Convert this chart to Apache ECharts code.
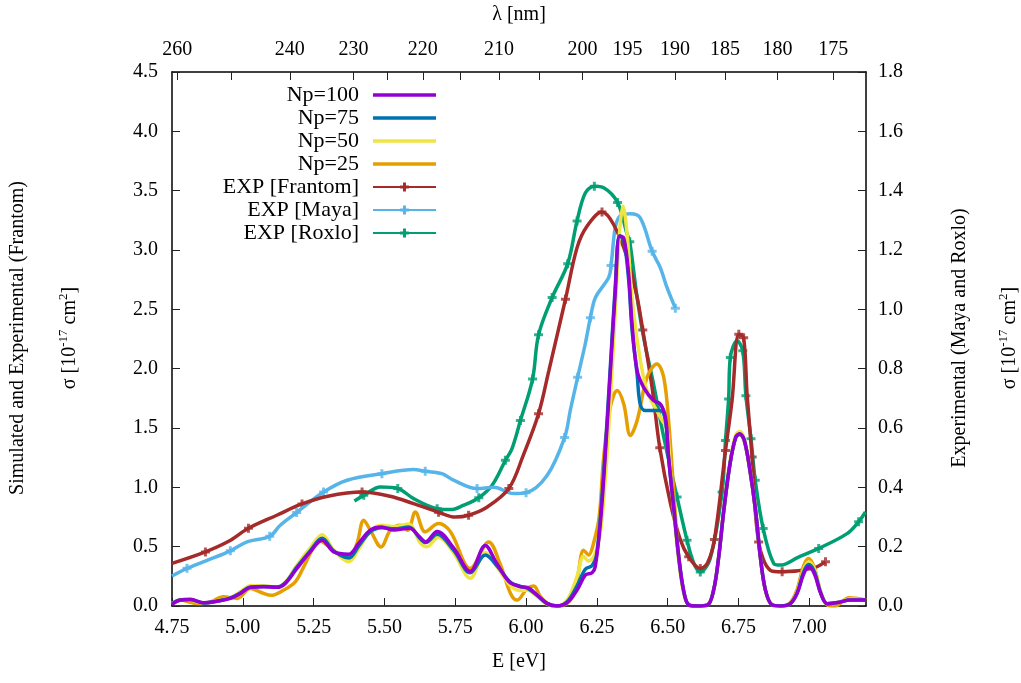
<!DOCTYPE html>
<html>
<head>
<meta charset="utf-8">
<script src="https://cdn.jsdelivr.net/npm/echarts@6/dist/echarts.min.js"></script>
<style>
  html, body { margin: 0; padding: 0; background: #fff; }
  #chart { width: 1021px; height: 683px; }
</style>
</head>
<body>
<div id="chart"></div>
<script>
// photon energy <-> wavelength
var HC = 1239.84;

// axis ticks
var energyTicks = [4.75, 5.00, 5.25, 5.50, 5.75, 6.00, 6.25, 6.50, 6.75, 7.00];
var lambdaTicks = [260, 250, 240, 230, 225, 220, 215, 210, 205, 200, 195, 190, 185, 180, 175];
var lambdaLabels = [260, 240, 230, 220, 210, 200, 195, 190, 185, 180, 175];

// simulated spectra, [E eV, sigma 1e-17 cm2] (left axis)
var np100 = [[4.75,0.014],[4.78,0.05],[4.815,0.056],[4.862,0.028],[4.897,0.036],[4.956,0.064],[4.991,0.106],[5.026,0.157],[5.073,0.162],[5.121,0.157],[5.15,0.19],[5.191,0.317],[5.238,0.456],[5.28,0.555],[5.321,0.456],[5.374,0.437],[5.409,0.527],[5.45,0.639],[5.49,0.665],[5.532,0.64],[5.59,0.655],[5.621,0.59],[5.645,0.54],[5.686,0.628],[5.744,0.49],[5.803,0.29],[5.856,0.51],[5.895,0.365],[5.94,0.204],[5.98,0.162],[6.004,0.157],[6.039,0.092],[6.074,0.022],[6.109,0.0],[6.145,0.028],[6.18,0.134],[6.209,0.26],[6.233,0.28],[6.244,0.33],[6.262,0.695],[6.279,1.255],[6.297,1.955],[6.315,2.655],[6.33,3.118],[6.345,3.10],[6.362,2.796],[6.374,2.376],[6.392,1.983],[6.415,1.843],[6.45,1.731],[6.474,1.703],[6.492,1.59],[6.503,1.255],[6.521,0.834],[6.539,0.414],[6.556,0.134],[6.574,0.008],[6.6,0],[6.64,0.008],[6.662,0.134],[6.68,0.414],[6.698,0.807],[6.72,1.2],[6.74,1.42],[6.754,1.451],[6.77,1.40],[6.79,1.15],[6.81,0.807],[6.827,0.414],[6.845,0.134],[6.868,0.01],[6.9,0],[6.933,0.02],[6.957,0.107],[6.98,0.27],[6.998,0.33],[7.018,0.27],[7.04,0.107],[7.063,0.02],[7.1,0.03],[7.145,0.05],[7.2,0.05]];
var np75 = [[4.75,0.02],[4.78,0.05],[4.815,0.052],[4.862,0.026],[4.9,0.036],[4.956,0.068],[4.991,0.11],[5.026,0.16],[5.073,0.165],[5.121,0.16],[5.15,0.195],[5.19,0.325],[5.238,0.465],[5.28,0.57],[5.321,0.465],[5.374,0.405],[5.409,0.505],[5.45,0.625],[5.49,0.66],[5.535,0.65],[5.585,0.665],[5.627,0.565],[5.645,0.535],[5.686,0.605],[5.744,0.47],[5.803,0.28],[5.856,0.43],[5.9,0.33],[5.945,0.2],[5.98,0.165],[6.004,0.15],[6.039,0.09],[6.074,0.02],[6.109,0],[6.145,0.035],[6.18,0.17],[6.209,0.31],[6.233,0.34],[6.248,0.42],[6.262,0.74],[6.279,1.3],[6.297,2.0],[6.315,2.7],[6.33,3.12],[6.345,3.08],[6.362,2.75],[6.374,2.33],[6.392,1.95],[6.403,1.70],[6.421,1.647],[6.474,1.647],[6.492,1.56],[6.503,1.25],[6.521,0.83],[6.539,0.41],[6.556,0.13],[6.574,0.01],[6.6,0],[6.64,0.008],[6.662,0.134],[6.68,0.414],[6.698,0.807],[6.72,1.2],[6.74,1.42],[6.754,1.45],[6.77,1.40],[6.79,1.15],[6.81,0.807],[6.827,0.414],[6.845,0.134],[6.868,0.01],[6.9,0],[6.933,0.02],[6.957,0.11],[6.98,0.29],[6.998,0.35],[7.018,0.29],[7.04,0.11],[7.063,0.02],[7.1,0.03],[7.145,0.05],[7.2,0.05]];
var np50 = [[4.75,0.02],[4.78,0.055],[4.815,0.05],[4.862,0.025],[4.9,0.04],[4.956,0.07],[4.991,0.12],[5.026,0.17],[5.073,0.17],[5.121,0.16],[5.15,0.2],[5.19,0.34],[5.238,0.49],[5.28,0.6],[5.321,0.47],[5.374,0.372],[5.409,0.48],[5.45,0.63],[5.49,0.68],[5.535,0.67],[5.585,0.69],[5.627,0.53],[5.65,0.5],[5.69,0.58],[5.744,0.45],[5.803,0.233],[5.856,0.45],[5.9,0.32],[5.945,0.17],[5.98,0.13],[6.004,0.135],[6.039,0.08],[6.074,0.015],[6.109,0],[6.145,0.05],[6.18,0.25],[6.203,0.42],[6.22,0.38],[6.24,0.42],[6.262,0.62],[6.279,1.05],[6.297,1.7],[6.315,2.5],[6.33,3.15],[6.342,3.37],[6.356,3.15],[6.374,2.6],[6.398,2.15],[6.427,1.815],[6.474,1.59],[6.498,1.479],[6.51,1.115],[6.525,0.7],[6.54,0.36],[6.556,0.12],[6.574,0.01],[6.6,0],[6.64,0.01],[6.662,0.14],[6.68,0.42],[6.698,0.82],[6.72,1.22],[6.74,1.44],[6.754,1.47],[6.77,1.41],[6.79,1.16],[6.81,0.81],[6.827,0.41],[6.845,0.13],[6.868,0.01],[6.9,0],[6.933,0.02],[6.957,0.12],[6.98,0.31],[6.998,0.37],[7.018,0.31],[7.04,0.12],[7.063,0.02],[7.1,0.03],[7.145,0.06],[7.2,0.05]];
var np25 = [[4.75,0.022],[4.78,0.05],[4.838,0.022],[4.88,0.03],[4.932,0.078],[4.98,0.064],[5.026,0.148],[5.073,0.106],[5.1,0.09],[5.144,0.134],[5.185,0.204],[5.215,0.33],[5.244,0.47],[5.268,0.555],[5.297,0.513],[5.333,0.443],[5.38,0.429],[5.403,0.527],[5.427,0.723],[5.45,0.639],[5.488,0.498],[5.521,0.639],[5.556,0.681],[5.582,0.639],[5.609,0.792],[5.644,0.625],[5.691,0.695],[5.733,0.625],[5.803,0.317],[5.868,0.54],[5.909,0.35],[5.945,0.106],[5.968,0.05],[6.004,0.148],[6.027,0.168],[6.051,0.078],[6.086,0.008],[6.12,0],[6.16,0.06],[6.18,0.218],[6.203,0.47],[6.221,0.43],[6.238,0.527],[6.258,0.75],[6.274,1.255],[6.297,1.675],[6.322,1.815],[6.345,1.7],[6.368,1.437],[6.392,1.563],[6.427,1.927],[6.462,2.04],[6.486,1.927],[6.504,1.535],[6.521,0.975],[6.539,0.414],[6.563,0.05],[6.59,0],[6.64,0.01],[6.662,0.13],[6.68,0.41],[6.698,0.80],[6.72,1.2],[6.74,1.42],[6.754,1.44],[6.77,1.39],[6.79,1.14],[6.81,0.80],[6.827,0.41],[6.845,0.13],[6.868,0.01],[6.9,0],[6.933,0.03],[6.957,0.14],[6.98,0.34],[6.998,0.40],[7.018,0.32],[7.04,0.12],[7.063,0.01],[7.09,0],[7.14,0.07],[7.2,0.05]];

// experiment: Frantom (left axis)
var frantomCurve = [[4.75,0.359],[4.868,0.456],[4.95,0.545],[5.02,0.655],[5.12,0.765],[5.209,0.86],[5.3,0.925],[5.421,0.96],[5.52,0.925],[5.6,0.865],[5.691,0.79],[5.75,0.75],[5.797,0.765],[5.86,0.83],[5.939,0.99],[5.99,1.27],[6.044,1.62],[6.08,1.98],[6.139,2.585],[6.18,3.02],[6.215,3.2],[6.268,3.32],[6.309,3.215],[6.357,2.935],[6.392,2.6],[6.412,2.325],[6.445,1.84],[6.472,1.333],[6.51,0.86],[6.545,0.555],[6.574,0.414],[6.615,0.317],[6.64,0.36],[6.665,0.56],[6.704,1.31],[6.727,1.73],[6.751,2.29],[6.768,2.26],[6.78,1.79],[6.798,1.255],[6.821,0.54],[6.863,0.3],[6.904,0.288],[7.01,0.317],[7.057,0.372]];
var frantomPts = [[4.868,0.456],[5.02,0.655],[5.209,0.86],[5.421,0.96],[5.691,0.79],[5.797,0.765],[5.939,0.99],[6.044,1.62],[6.139,2.585],[6.268,3.32],[6.412,2.325],[6.472,1.333],[6.574,0.414],[6.615,0.317],[6.665,0.56],[6.704,1.31],[6.751,2.29],[6.768,2.26],[6.798,1.255],[6.821,0.54],[6.904,0.288],[7.057,0.372]];

// experiment: Maya and Roxlo (right axis)
var mayaCurve = [[4.75,0.101],[4.803,0.127],[4.88,0.156],[4.956,0.186],[5.015,0.216],[5.095,0.235],[5.132,0.272],[5.19,0.315],[5.285,0.384],[5.368,0.424],[5.491,0.446],[5.603,0.46],[5.644,0.454],[5.703,0.446],[5.744,0.424],[5.827,0.396],[5.886,0.4],[5.956,0.379],[6.0,0.382],[6.074,0.44],[6.136,0.568],[6.156,0.659],[6.182,0.771],[6.209,0.884],[6.227,0.972],[6.245,1.04],[6.292,1.108],[6.3,1.148],[6.315,1.276],[6.333,1.316],[6.368,1.322],[6.403,1.308],[6.445,1.196],[6.474,1.14],[6.498,1.072],[6.527,1.004]];
var mayaPts = [[4.803,0.127],[4.956,0.186],[5.095,0.235],[5.19,0.315],[5.285,0.384],[5.491,0.446],[5.644,0.454],[5.827,0.396],[6.0,0.382],[6.136,0.568],[6.182,0.771],[6.227,0.972],[6.3,1.148],[6.445,1.196],[6.527,1.004]];
var roxloCurve = [[5.394,0.354],[5.427,0.373],[5.486,0.401],[5.547,0.396],[5.603,0.362],[5.686,0.328],[5.733,0.325],[5.78,0.34],[5.833,0.365],[5.88,0.407],[5.927,0.491],[5.95,0.53],[5.98,0.625],[6.023,0.765],[6.044,0.914],[6.092,1.04],[6.147,1.154],[6.18,1.298],[6.209,1.392],[6.241,1.415],[6.274,1.41],[6.323,1.36],[6.357,1.252],[6.366,1.228],[6.392,1.04],[6.415,0.905],[6.45,0.748],[6.486,0.569],[6.533,0.367],[6.568,0.222],[6.592,0.144],[6.615,0.115],[6.65,0.16],[6.692,0.384],[6.704,0.558],[6.715,0.698],[6.721,0.838],[6.745,0.894],[6.765,0.86],[6.776,0.709],[6.794,0.564],[6.809,0.424],[6.837,0.261],[6.874,0.144],[6.898,0.138],[6.96,0.164],[7.033,0.194],[7.133,0.244],[7.174,0.284],[7.198,0.317]];
var roxloPts = [[5.427,0.373],[5.547,0.396],[5.686,0.328],[5.833,0.365],[5.927,0.491],[5.98,0.625],[6.023,0.765],[6.044,0.914],[6.092,1.04],[6.147,1.154],[6.18,1.298],[6.241,1.415],[6.323,1.36],[6.366,1.228],[6.533,0.367],[6.568,0.222],[6.615,0.115],[6.692,0.384],[6.704,0.558],[6.715,0.698],[6.721,0.838],[6.765,0.86],[6.776,0.709],[6.794,0.564],[6.809,0.424],[6.837,0.261],[7.033,0.194],[7.174,0.284]];

var FONT = '"Liberation Serif", "DejaVu Serif", serif';
var PLUS = 'path://M3,0H6V3H9V6H6V9H3V6H0V3H3Z';
var BAR = 'path://M0,0H60V3.4H0Z';

var colors = {
	np100: '#9400d3', np75: '#0072b2', np50: '#f0e442', np25: '#e69f00',
	frantom: '#a52a2a', maya: '#56b4e9', roxlo: '#009e73'
};

var chart = echarts.init(document.getElementById('chart'), null, {renderer: 'canvas'});

function simLine(name, data, color) {
	return {
		name: name, type: 'line', data: data, xAxisIndex: 0, yAxisIndex: 0,
		smooth: 0.35, symbol: 'none', showSymbol: false,
		lineStyle: {color: color, width: 3.5}, itemStyle: {color: color}
	};
}
function expLine(name, data, color, yIdx) {
	return {
		name: name, type: 'line', data: data, xAxisIndex: 0, yAxisIndex: yIdx,
		smooth: 0.35, symbol: PLUS, symbolSize: 9, showSymbol: false,
		lineStyle: {color: color, width: 3.5}, itemStyle: {color: color}
	};
}
function expPts(name, data, color, yIdx) {
	return {
		name: name, type: 'scatter', data: data, xAxisIndex: 0, yAxisIndex: yIdx,
		symbol: PLUS, symbolSize: 9, itemStyle: {color: color}
	};
}

var tickStyle = {inside: true, length: 8, lineStyle: {color: '#222', width: 1}};
var lineBlack = {show: true, onZero: false, lineStyle: {color: '#000', width: 1.5}};
var labelStyle = {color: '#000', fontSize: 20, fontFamily: FONT};

var option = {
	animation: false,
	backgroundColor: '#fff',
	grid: {left: 172, right: 155, top: 70, bottom: 77, containLabel: false},
	legend: {
		orient: 'vertical', align: 'right', right: 579, top: 79,
		itemWidth: 63, itemHeight: 11, itemGap: 1, selectedMode: false,
		textStyle: {fontSize: 22, fontFamily: FONT, color: '#000', padding: [0, 9, 0, 0]},
		data: [
			{name: 'Np=100', icon: BAR},
			{name: 'Np=75', icon: BAR},
			{name: 'Np=50', icon: BAR},
			{name: 'Np=25', icon: BAR},
			{name: 'EXP [Frantom]'},
			{name: 'EXP [Maya]'},
			{name: 'EXP [Roxlo]'}
		]
	},
	xAxis: [
		{
			type: 'value', min: 4.75, max: 7.2, position: 'bottom',
			axisLine: lineBlack,
			axisTick: Object.assign({customValues: energyTicks}, tickStyle),
			axisLabel: Object.assign({customValues: energyTicks, margin: 12,
				formatter: function(v){ return v.toFixed(2); }}, labelStyle),
			splitLine: {show: false},
			name: 'E [eV]', nameLocation: 'middle', nameGap: 46,
			nameTextStyle: {color: '#000', fontSize: 20, fontFamily: FONT}
		},
		{
			type: 'value', min: 4.75, max: 7.2, position: 'top',
			axisLine: lineBlack,
			axisTick: Object.assign({customValues: lambdaTicks.map(function(l){ return HC / l; })}, tickStyle),
			axisLabel: Object.assign({customValues: lambdaLabels.map(function(l){ return HC / l; }), margin: 12,
				formatter: function(v){ return String(Math.round(HC / v)); }}, labelStyle),
			splitLine: {show: false},
			name: 'λ [nm]', nameLocation: 'middle', nameGap: 47,
			nameTextStyle: {color: '#000', fontSize: 20, fontFamily: FONT}
		}
	],
	yAxis: [
		{
			type: 'value', min: 0, max: 4.5, interval: 0.5, position: 'left',
			axisLine: lineBlack, axisTick: tickStyle,
			axisLabel: Object.assign({margin: 14, formatter: function(v){ return v.toFixed(1); }}, labelStyle),
			splitLine: {show: false}
		},
		{
			type: 'value', min: 0, max: 1.8, interval: 0.2, position: 'right',
			axisLine: lineBlack, axisTick: tickStyle,
			axisLabel: Object.assign({margin: 12, formatter: function(v){ return v.toFixed(1); }}, labelStyle),
			splitLine: {show: false}
		}
	],
	graphic: [
		{type: 'text', x: 18, y: 338, rotation: Math.PI / 2,
			style: {text: 'Simulated and Experimental (Frantom)', align: 'center', verticalAlign: 'middle',
				fill: '#000', fontSize: 20, fontFamily: FONT}},
		{type: 'text', x: 70, y: 338, rotation: Math.PI / 2,
			style: {text: '{a|σ [10}{s|-17}{a| cm}{s|2}{a|]}', align: 'center', verticalAlign: 'middle',
				fill: '#000', fontSize: 20, fontFamily: FONT,
				rich: {a: {fontSize: 20, fontFamily: FONT, lineHeight: 26}, s: {fontSize: 13, fontFamily: FONT, lineHeight: 14, verticalAlign: 'top'}}}},
		{type: 'text', x: 960, y: 338, rotation: Math.PI / 2,
			style: {text: 'Experimental (Maya and Roxlo)', align: 'center', verticalAlign: 'middle',
				fill: '#000', fontSize: 20, fontFamily: FONT}},
		{type: 'text', x: 1010, y: 338, rotation: Math.PI / 2,
			style: {text: '{a|σ [10}{s|-17}{a| cm}{s|2}{a|]}', align: 'center', verticalAlign: 'middle',
				fill: '#000', fontSize: 20, fontFamily: FONT,
				rich: {a: {fontSize: 20, fontFamily: FONT, lineHeight: 26}, s: {fontSize: 13, fontFamily: FONT, lineHeight: 14, verticalAlign: 'top'}}}}
	],
	series: [
		expLine('EXP [Roxlo]', roxloCurve, colors.roxlo, 1),
		expPts('EXP [Roxlo]', roxloPts, colors.roxlo, 1),
		expLine('EXP [Maya]', mayaCurve, colors.maya, 1),
		expPts('EXP [Maya]', mayaPts, colors.maya, 1),
		expLine('EXP [Frantom]', frantomCurve, colors.frantom, 0),
		expPts('EXP [Frantom]', frantomPts, colors.frantom, 0),
		simLine('Np=25', np25, colors.np25),
		simLine('Np=50', np50, colors.np50),
		simLine('Np=75', np75, colors.np75),
		simLine('Np=100', np100, colors.np100)
	]
};

chart.setOption(option);
</script>
</body>
</html>
